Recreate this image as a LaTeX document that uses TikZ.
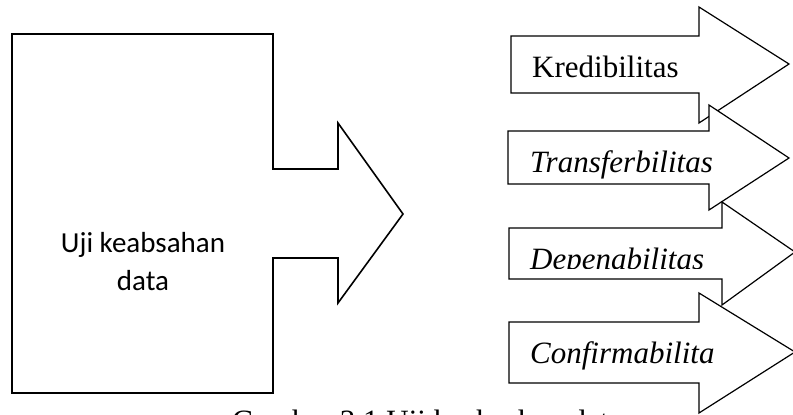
\documentclass[tikz,border=0pt]{standalone}
\usepackage{fontspec}
\setmainfont{Liberation Serif}
\newfontfamily\serif{Liberation Serif}
\newfontfamily\calibri{Carlito}

\tikzstyle{bigarrow} = [draw,fill=white,line width=1.6pt,line join=miter]
\tikzstyle{smallarrow} = [draw,fill=white,line width=1.2pt,line join=miter]
\tikzstyle{crit} = [anchor=base west,inner sep=0pt,font=\serif\fontsize{31}{36}\selectfont]

\begin{document}
\begin{tikzpicture}[x=1pt,y=-1pt]
		\useasboundingbox (0,0) rectangle (793,415);
		% main block with its arrow
		\draw[bigarrow] (12,34) -- (273,34) -- (273,169) -- (338,169) -- (338,123) -- (403,214)
			-- (338,303) -- (338,258) -- (273,258) -- (273,393) -- (12,393) -- cycle;
		\node[align=center,inner sep=0pt,font=\calibri\fontsize{29}{38}\selectfont] (uji) at (143,262) {Uji keabsahan\\data};
		% the four criteria
		\draw[smallarrow] (511,36) -- (699,36) -- (699,7) -- (789,64) -- (699,123) -- (699,93) -- (511,93) -- cycle;
		\node[crit] (kred) at (532,77) {Kredibilitas};
		\draw[smallarrow] (508,131) -- (709,131) -- (709,105) -- (789,158) -- (709,210) -- (709,184) -- (508,184) -- cycle;
		\node[crit] (trans) at (530,172) {\itshape Transferbilitas};
		\draw[smallarrow] (509,228) -- (722,228) -- (722,202) -- (795,252) -- (722,305) -- (722,279) -- (509,279) -- cycle;
		\begin{scope}
			\clip (515,235) rectangle (715,268);
			\node[crit] (depen) at (530,269) {\itshape Depenabilitas};
		\end{scope}
		\draw[smallarrow] (509,322) -- (699,322) -- (699,293) -- (795,352) -- (699,413) -- (699,383) -- (509,383) -- cycle;
		\node[crit] (konf) at (530,363) {\itshape Confirmabilita};
		% caption, cut by the page edge
		\node[crit] (caption) at (232,431) {Gambar 3.1 Uji keabsahan data};
		\end{tikzpicture}
\end{document}
